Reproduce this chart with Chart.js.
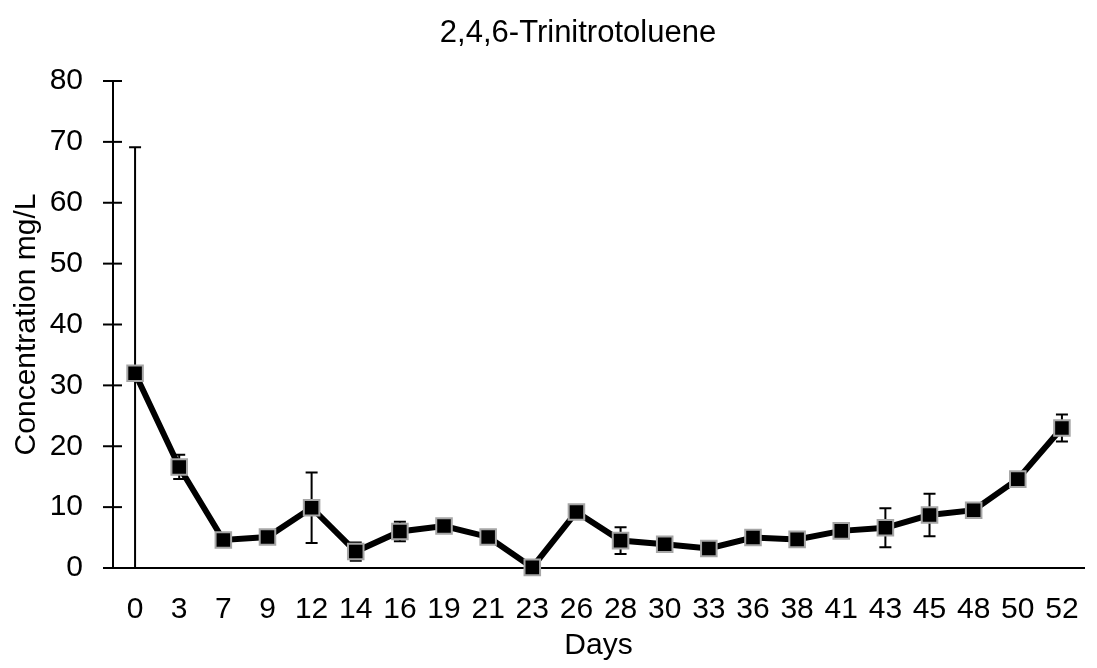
<!DOCTYPE html>
<html>
<head>
<meta charset="utf-8">
<script src="https://cdn.jsdelivr.net/npm/chart.js@4"></script>
<style>
  html, body { margin: 0; padding: 0; background: #fff; }
  #wrap { width: 1097px; height: 668px; }
</style>
</head>
<body>
<div id="wrap"><canvas id="grafico"></canvas></div>
<script>
// dias de coleta e concentracao media de TNT (mg/L)
var dias = ['0', '3', '7', '9', '12', '14', '16', '19', '21', '23', '26',
            '28', '30', '33', '36', '38', '41', '43', '45', '48', '50', '52'];
var concentracao = [32.0, 16.6, 4.6, 5.1, 9.9, 2.7, 6.0, 6.9, 5.1, 0.1, 9.2,
                    4.5, 3.9, 3.2, 5.0, 4.7, 6.1, 6.6, 8.7, 9.5, 14.6, 23.0];
// desvio padrao de cada ponto
var desvio = [37.1, 2.0, 0.3, 0.3, 5.8, 1.5, 1.6, 0.3, 0.3, 0.3, 0.3,
              2.2, 0.3, 0.3, 0.3, 1.0, 0.3, 3.2, 3.5, 0.3, 0.3, 2.2];
var ticksY = [0, 10, 20, 30, 40, 50, 60, 70, 80];
var titulo = '2,4,6-Trinitrotoluene';

var fonte = 'Liberation Sans, Arial, sans-serif';

// barras de erro desenhadas antes dos pontos, para ficarem por baixo
var barrasErro = {
    id: 'barrasErro',
    beforeDatasetsDraw: function (chart) {
        var ctx = chart.ctx;
        var x = chart.scales.x, y = chart.scales.y;
        ctx.save();
        ctx.strokeStyle = '#000';
        ctx.lineWidth = 2;
        for (var i = 0; i < concentracao.length; i++) {
            var px = x.getPixelForValue(i);
            var topo = y.getPixelForValue(concentracao[i] + desvio[i]);
            var base = y.getPixelForValue(Math.max(0, concentracao[i] - desvio[i]));
            ctx.beginPath();
            ctx.moveTo(px, topo);
            ctx.lineTo(px, base);
            ctx.moveTo(px - 6, topo);
            ctx.lineTo(px + 6, topo);
            if (concentracao[i] - desvio[i] > 0) {
                ctx.moveTo(px - 6, base);
                ctx.lineTo(px + 6, base);
            }
            ctx.stroke();
        }
        ctx.restore();
    }
};

// marcas do eixo Y cruzando a linha do eixo, e o titulo do grafico
var marcasY = {
    id: 'marcasY',
    afterDraw: function (chart) {
        var ctx = chart.ctx;
        var y = chart.scales.y;
        var x0 = chart.chartArea.left;
        ctx.save();
        ctx.strokeStyle = '#000';
        ctx.lineWidth = 2;
        ticksY.forEach(function (v) {
            var py = y.getPixelForValue(v);
            ctx.beginPath();
            ctx.moveTo(x0 - 10, py);
            ctx.lineTo(x0 + 9, py);
            ctx.stroke();
        });
        ctx.fillStyle = '#000';
        ctx.font = '31px ' + fonte;
        ctx.textAlign = 'center';
        ctx.textBaseline = 'middle';
        ctx.fillText(titulo, 578, 33);
        ctx.restore();
    }
};

var ctx = document.getElementById('grafico').getContext('2d');

var grafico = new Chart(ctx, {
    type: 'line',
    data: {
        labels: dias,
        datasets: [{
            label: titulo,
            data: concentracao,
            borderColor: '#000',
            borderWidth: 6,
            tension: 0,
            pointStyle: 'rect',
            pointRadius: 11,
            pointBackgroundColor: '#000',
            pointBorderColor: '#a6a6a6',
            pointBorderWidth: 2,
            clip: false
        }]
    },
    options: {
        responsive: true,
        maintainAspectRatio: false,
        animation: false,
        layout: { padding: { left: 0, right: 3, top: 81, bottom: 0 } },
        plugins: {
            legend: { display: false },
            tooltip: { enabled: false },
            title: { display: false }
        },
        scales: {
            x: {
                offset: true,
                grid: { display: false },
                border: { display: true, color: '#000', width: 2 },
                ticks: { color: '#000', font: { family: fonte, size: 30 }, maxRotation: 0, autoSkip: false, padding: 16 },
                title: { display: true, text: 'Days', color: '#000', font: { family: fonte, size: 30 }, padding: { top: 0, bottom: 4 } },
                afterFit: function (s) { s.height = 100; }
            },
            y: {
                min: 0,
                max: 80,
                afterBuildTicks: function (s) { s.ticks = ticksY.map(function (v) { return { value: v }; }); },
                grid: { display: false },
                border: { display: true, color: '#000', width: 2 },
                ticks: { color: '#000', font: { family: fonte, size: 30 }, padding: 22 },
                title: { display: true, text: 'Concentration mg/L', color: '#000', font: { family: fonte, size: 30 }, padding: { top: 9, bottom: 0 } },
                afterFit: function (s) { s.width = 113; }
            }
        }
    },
    plugins: [barrasErro, marcasY]
});
</script>
</body>
</html>
